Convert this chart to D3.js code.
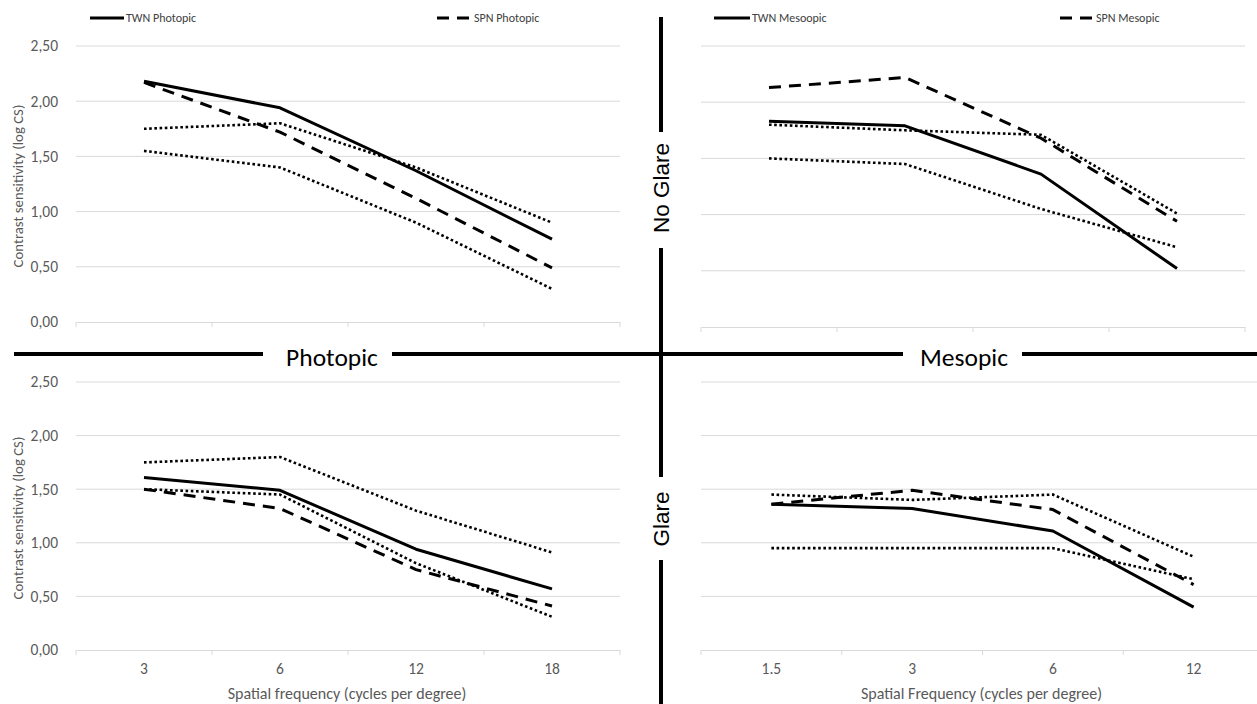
<!DOCTYPE html>
<html><head><meta charset="utf-8">
<script src="https://cdn.jsdelivr.net/npm/d3@7"></script>
<style>body{margin:0;background:#fff;} svg{display:block;}</style>
</head><body>
<svg id="c" width="1257" height="704"></svg>
<script>
// ---- data ----
const photopicFreqs = ["3", "6", "12", "18"];
const mesopicFreqs = ["1.5", "3", "6", "12"];
const yTicks = [0, 0.5, 1.0, 1.5, 2.0, 2.5];

// Photopic, no glare
const twnPhotopicNoGlare = [2.18, 1.94, 1.37, 0.75];
const spnPhotopicNoGlare = [2.17, 1.72, 1.12, 0.49];
const upperPhotopicNoGlare = [1.75, 1.80, 1.40, 0.90];
const lowerPhotopicNoGlare = [1.55, 1.40, 0.90, 0.30];
// Mesopic, no glare
const twnMesopicNoGlare = [1.83, 1.79, 1.36, 0.52];
const spnMesopicNoGlare = [2.13, 2.22, 1.68, 0.94];
const upperMesopicNoGlare = [1.80, 1.75, 1.71, 1.01];
const lowerMesopicNoGlare = [1.50, 1.45, 1.05, 0.71];
// Photopic, glare
const twnPhotopicGlare = [1.61, 1.49, 0.94, 0.57];
const spnPhotopicGlare = [1.50, 1.32, 0.75, 0.41];
const upperPhotopicGlare = [1.75, 1.80, 1.30, 0.91];
const lowerPhotopicGlare = [1.50, 1.45, 0.81, 0.31];
// Mesopic, glare
const twnMesopicGlare = [1.36, 1.32, 1.11, 0.40];
const spnMesopicGlare = [1.36, 1.49, 1.31, 0.61];
const upperMesopicGlare = [1.45, 1.40, 1.45, 0.87];
const lowerMesopicGlare = [0.95, 0.95, 0.95, 0.66];

const yTitle = "Contrast sensitivity (log  CS)";
const xTitlePhotopic = "Spatial frequency (cycles per degree)";
const xTitleMesopic = "Spatial Frequency (cycles per degree)";

// ---- drawing ----
const svg = d3.select("#c");
const fontMain = "Carlito, Calibri, 'Open Sans', sans-serif";
const grey = "#595959";
const styles = {
  solid: {w: 3, dash: null},
  dashed: {w: 3, dash: "12,8"},
  dotted: {w: 2.6, dash: "2.6,2.6"}
};

function panel(cfg) {
  const x = d3.scaleBand().domain(cfg.cats).range(cfg.xr).padding(0);
  const y = d3.scaleLinear().domain([0, 2.5]).range(cfg.yr);
  const g = svg.append("g");
  g.selectAll(".grid").data(yTicks.slice(1)).join("line")
    .attr("x1", cfg.xr[0]).attr("x2", cfg.xr[1])
    .attr("y1", d => y(d)).attr("y2", d => y(d))
    .attr("stroke", "#d9d9d9").attr("stroke-width", 1);
  const xAxis = d3.axisBottom(x).tickSize(0).tickFormat(cfg.showX ? (d => d) : () => "");
  const ax = g.append("g").attr("transform", `translate(0,${y(0)})`).call(xAxis);
  ax.select(".domain").attr("stroke", "#d9d9d9");
  ax.selectAll("text").attr("fill", grey).attr("font-size", 15.5).attr("font-family", fontMain).attr("dy", "1.35em");
  const bounds = cfg.cats.map(c => x(c)).concat([cfg.xr[1]]);
  g.selectAll(".bt").data(bounds).join("line")
    .attr("x1", d => d).attr("x2", d => d).attr("y1", y(0)).attr("y2", y(0) + 5)
    .attr("stroke", "#d9d9d9");
  if (cfg.showY) {
    const yAxis = d3.axisLeft(y).tickValues(yTicks).tickSize(0)
      .tickFormat(d => d3.format(".2f")(d).replace(".", ","));
    const ay = g.append("g").attr("transform", `translate(${cfg.xr[0] - 15},0)`).call(yAxis);
    ay.select(".domain").remove();
    ay.selectAll("text").attr("fill", grey).attr("font-size", 15.5).attr("font-family", fontMain);
    g.append("text").attr("transform", `translate(23,${(cfg.yr[0] + cfg.yr[1]) / 2 + 2}) rotate(-90)`)
      .attr("text-anchor", "middle").attr("fill", grey).attr("font-size", 14.8)
      .attr("font-family", fontMain).text(yTitle);
  }
  if (cfg.xTitle) {
    g.append("text").attr("x", (cfg.xr[0] + cfg.xr[1]) / 2 - 1).attr("y", 699)
      .attr("text-anchor", "middle").attr("fill", grey).attr("font-size", 16)
      .attr("font-family", fontMain).text(cfg.xTitle);
  }
  const line = d3.line().x((d, i) => x(cfg.cats[i]) + x.bandwidth() / 2).y(d => y(d));
  cfg.series.forEach(s => {
    const st = styles[s.style];
    g.append("path").datum(s.values).attr("d", line).attr("fill", "none")
      .attr("stroke", "#000").attr("stroke-width", st.w)
      .attr("stroke-dasharray", st.dash).attr("stroke-linejoin", "round");
  });
  if (cfg.legend) {
    cfg.legend.forEach(l => {
      const st = styles[l.style];
      g.append("line").attr("x1", l.x1).attr("x2", l.x2).attr("y1", 18).attr("y2", 18)
        .attr("stroke", "#000").attr("stroke-width", 3).attr("stroke-dasharray", st.dash);
      g.append("text").attr("x", l.x2 + 2).attr("y", 18).attr("dy", "0.35em")
        .attr("font-size", 12).attr("fill", "#404040").attr("font-family", fontMain).text(l.text);
    });
  }
}

function ser(tw, sp, up, lo) {
  return [
    {values: up, style: "dotted"},
    {values: lo, style: "dotted"},
    {values: sp, style: "dashed"},
    {values: tw, style: "solid"}
  ];
}

panel({cats: photopicFreqs, xr: [76, 620], yr: [322, 46], showY: true, showX: false,
  series: ser(twnPhotopicNoGlare, spnPhotopicNoGlare, upperPhotopicNoGlare, lowerPhotopicNoGlare),
  legend: [{x1: 90, x2: 124, style: "solid", text: "TWN Photopic"},
           {x1: 437, x2: 472, style: "dashed", text: "SPN Photopic"}]});
panel({cats: mesopicFreqs, xr: [701, 1245], yr: [327, 46], showY: false, showX: false,
  series: ser(twnMesopicNoGlare, spnMesopicNoGlare, upperMesopicNoGlare, lowerMesopicNoGlare),
  legend: [{x1: 714, x2: 750, style: "solid", text: "TWN Mesoopic"},
           {x1: 1060, x2: 1094, style: "dashed", text: "SPN Mesopic"}]});
panel({cats: photopicFreqs, xr: [76, 620], yr: [650, 382], showY: true, showX: true,
  series: ser(twnPhotopicGlare, spnPhotopicGlare, upperPhotopicGlare, lowerPhotopicGlare),
  xTitle: xTitlePhotopic});
panel({cats: mesopicFreqs, xr: [701, 1264], yr: [650, 382], showY: false, showX: true,
  series: ser(twnMesopicGlare, spnMesopicGlare, upperMesopicGlare, lowerMesopicGlare),
  xTitle: xTitleMesopic});

// dividers
const div = svg.append("g").attr("stroke", "#000").attr("stroke-width", 4);
[[14, 263], [392, 903], [1022, 1257]].forEach(s =>
  div.append("line").attr("x1", s[0]).attr("x2", s[1]).attr("y1", 354).attr("y2", 354));
[[17, 132], [248, 477], [560, 704]].forEach(s =>
  div.append("line").attr("x1", 661).attr("x2", 661).attr("y1", s[0]).attr("y2", s[1]));

svg.append("text").attr("x", 332).attr("y", 366).attr("text-anchor", "middle")
  .attr("font-size", 25.5).attr("font-family", fontMain).attr("fill", "#000").text("Photopic");
svg.append("text").attr("x", 964).attr("y", 366).attr("text-anchor", "middle")
  .attr("font-size", 25.5).attr("font-family", fontMain).attr("fill", "#000").text("Mesopic");
svg.append("text").attr("transform", "translate(669,188) rotate(-90)").attr("text-anchor", "middle")
  .attr("font-size", 22.5).attr("font-family", "'Liberation Sans', Arial, sans-serif").attr("fill", "#000").text("No Glare");
svg.append("text").attr("transform", "translate(669,519) rotate(-90)").attr("text-anchor", "middle")
  .attr("font-size", 22.5).attr("font-family", "'Liberation Sans', Arial, sans-serif").attr("fill", "#000").text("Glare");
</script>
</body></html>
